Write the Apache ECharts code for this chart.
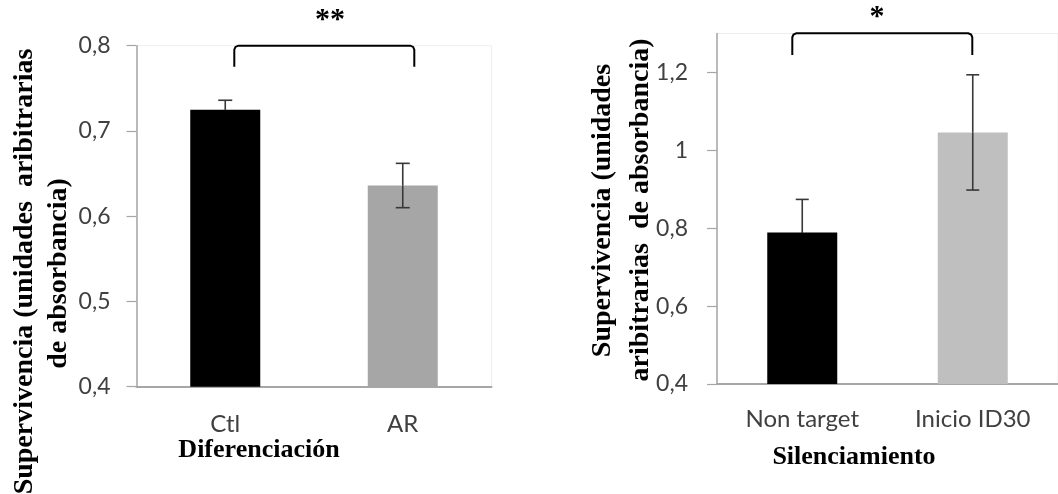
<!DOCTYPE html>
<html>
<head>
<meta charset="utf-8">
<script src="https://cdn.jsdelivr.net/npm/echarts@6/dist/echarts.min.js"></script>
<style>
html,body{margin:0;padding:0;background:#fff;}
#c{width:1058px;height:494px;}
</style>
</head>
<body>
<div id="c"></div>
<script>
// ---- data ----
var leftCategories = ['Ctl', 'AR'];
var leftMeans = [0.725, 0.636];
var leftErrors = [0.011, 0.026];
var leftTicks = [0.4, 0.5, 0.6, 0.7, 0.8];

var rightCategories = ['Non target', 'Inicio ID30'];
var rightMeans = [0.789, 1.046];
var rightErrors = [0.085, 0.148];
var rightTicks = [0.4, 0.6, 0.8, 1.0, 1.2];

// ---- styles ----
var leftColors = ['#000000', '#a6a6a6'];
var rightColors = ['#000000', '#bfbfbf'];
var labelFont = 'Lato';
var serif = '"Liberation Serif", "Times New Roman", serif';
var axisGray = '#a6a6a6';
var textGray = '#404040';
var errColor = '#383838';

function fmt(v) { return String(Math.round(v * 10) / 10).replace('.', ','); }

function barData(means, colors) {
  return means.map(function (m, i) { return { value: m, itemStyle: { color: colors[i] } }; });
}
function errData(means, errs) {
  return means.map(function (m, i) { return [i, m, errs[i]]; });
}
function errRender(capHalf, colors) {
  return function (params, api) {
    var x = api.value(0), m = api.value(1), e = api.value(2);
    var top = api.coord([x, m + e]);
    var mid = api.coord([x, m]);
    var bot = api.coord([x, m - e]);
    var st = { stroke: errColor, lineWidth: 1.6 };
    // part inside a black bar blends into it
    var lowSt = { stroke: colors[params.dataIndex] === '#000000' ? '#000000' : errColor, lineWidth: 1.6 };
    return {
      type: 'group',
      children: [
        { type: 'line', shape: { x1: top[0], y1: top[1], x2: mid[0], y2: mid[1] }, style: st },
        { type: 'line', shape: { x1: mid[0], y1: mid[1], x2: bot[0], y2: bot[1] }, style: lowSt },
        { type: 'line', shape: { x1: top[0] - capHalf, y1: top[1], x2: top[0] + capHalf, y2: top[1] }, style: st },
        { type: 'line', shape: { x1: bot[0] - capHalf, y1: bot[1], x2: bot[0] + capHalf, y2: bot[1] }, style: lowSt }
      ]
    };
  };
}

function yAxis(gridIndex, min, max, ticks, margin) {
  return {
    type: 'value', gridIndex: gridIndex, min: min, max: max,
    splitLine: { show: false },
    axisLine: { show: true, lineStyle: { color: axisGray, width: 1.5 } },
    axisTick: { show: true, inside: false, length: 10, customValues: ticks, lineStyle: { color: axisGray, width: 1.2 } },
    axisLabel: { customValues: ticks, formatter: fmt, margin: margin, color: textGray, fontFamily: labelFont, fontSize: 23 }
  };
}
function xAxis(gridIndex, cats, margin) {
  return {
    type: 'category', gridIndex: gridIndex, data: cats,
    axisLine: { show: true, lineStyle: { color: axisGray, width: 2 } },
    axisTick: { show: false },
    axisLabel: { margin: margin, color: textGray, fontFamily: labelFont, fontSize: 24 }
  };
}
function bracket(x1, x2, yTop, yBot) {
  var r = 4;
  return {
    type: 'polyline',
    shape: { points: [[x1, yBot], [x1, yTop + r], [x1 + 1.2, yTop + 1.2], [x1 + r, yTop], [x2 - r, yTop], [x2 - 1.2, yTop + 1.2], [x2, yTop + r], [x2, yBot]] },
    style: { stroke: '#000', lineWidth: 2, fill: null }
  };
}

var chart = echarts.init(document.getElementById('c'), null, { renderer: 'canvas' });

chart.setOption({
  animation: false,
  backgroundColor: '#fff',
  grid: [
    { left: 136.5, top: 45.7, width: 355, height: 341, show: true, borderColor: '#eeeeee', borderWidth: 1 },
    { left: 717, top: 33.5, width: 350, height: 350.5, show: true, borderColor: '#eeeeee', borderWidth: 1 }
  ],
  xAxis: [xAxis(0, leftCategories, 26), xAxis(1, rightCategories, 23)],
  yAxis: [yAxis(0, 0.4, 0.8, leftTicks, 26), yAxis(1, 0.4, 1.3, rightTicks, 29)],
  series: [
    { type: 'bar', xAxisIndex: 0, yAxisIndex: 0, barWidth: 70, data: barData(leftMeans, leftColors) },
    { type: 'custom', xAxisIndex: 0, yAxisIndex: 0, renderItem: errRender(7, leftColors), data: errData(leftMeans, leftErrors), z: 5 },
    { type: 'bar', xAxisIndex: 1, yAxisIndex: 1, barWidth: 70, data: barData(rightMeans, rightColors) },
    { type: 'custom', xAxisIndex: 1, yAxisIndex: 1, renderItem: errRender(6.5, rightColors), data: errData(rightMeans, rightErrors), z: 5 }
  ],
  graphic: [
    // left y title
    { type: 'text', x: 25, y: 271.5, rotation: Math.PI / 2, style: { text: 'Supervivencia (unidades  aribitrarias', font: 'bold 28px ' + serif, fill: '#000', align: 'center', verticalAlign: 'middle' } },
    { type: 'text', x: 59, y: 273.5, rotation: Math.PI / 2, style: { text: 'de absorbancia)', font: 'bold 28px ' + serif, fill: '#000', align: 'center', verticalAlign: 'middle' } },
    // right y title
    { type: 'text', x: 603, y: 210.5, rotation: Math.PI / 2, style: { text: 'Supervivencia (unidades', font: 'bold 28px ' + serif, fill: '#000', align: 'center', verticalAlign: 'middle' } },
    { type: 'text', x: 641, y: 210, rotation: Math.PI / 2, style: { text: 'aribitrarias  de absorbancia)', font: 'bold 28px ' + serif, fill: '#000', align: 'center', verticalAlign: 'middle' } },
    // x titles
    { type: 'text', x: 259, y: 450, style: { text: 'Diferenciación', font: 'bold 26px ' + serif, fill: '#000', align: 'center', verticalAlign: 'middle' } },
    { type: 'text', x: 854, y: 457, style: { text: 'Silenciamiento', font: 'bold 26px ' + serif, fill: '#000', align: 'center', verticalAlign: 'middle' } },
    // brackets
    bracket(234.3, 414.3, 45.7, 66.7),
    bracket(792.3, 972.3, 33.3, 55),
    // stars
    { type: 'text', x: 330, y: 20, style: { text: '**', font: 'bold 30px ' + serif, fill: '#000', align: 'center', verticalAlign: 'middle' } },
    { type: 'text', x: 877, y: 17.5, style: { text: '*', font: 'bold 30px ' + serif, fill: '#000', align: 'center', verticalAlign: 'middle' } }
  ]
});
</script>
</body>
</html>
